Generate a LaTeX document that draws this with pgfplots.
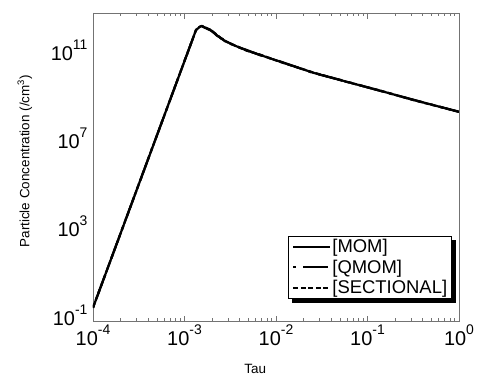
\documentclass[border=0pt]{standalone}
\usepackage{fontspec}
\setmainfont{Liberation Sans}
\usepackage{pgfplots}
\pgfplotsset{compat=1.18}
\usetikzlibrary{calc}
\pgfdeclarelayer{background}
\pgfsetlayers{background,main}
\newcommand{\tl}[1]{10\raisebox{11bp}{\fontsize{14}{14}\selectfont #1}}
\begin{document}
\begin{tikzpicture}
\useasboundingbox (-93bp,-57.3bp) rectangle (384bp,321.7bp);
\begin{axis}[
  at={(0bp,0bp)}, anchor=south west,
  width=366bp, height=308.7bp, scale only axis,
  xmode=log, ymode=log,
  xmin=1e-4, xmax=1, ymin=0.1, ymax=1e13,
  axis line style={black!55, line width=0.8bp},
  xtick={1e-4,1e-3,1e-2,1e-1,1},
  xticklabels={\tl{-4},\tl{-3},\tl{-2},\tl{-1},\tl{0}},
  ytick={1e-1,1e3,1e7,1e11},
  yticklabels={\tl{-1},\tl{3},\tl{7},\tl{11}},
  ytick style={draw=none},
  minor ytick={},
  xtick pos=both,
  tick align=inside,
  major tick length=6bp, minor tick length=3.5bp,
  xtick style={black!55, line width=0.8bp},
  minor tick style={black!55, line width=0.8bp},
  tick label style={font=\fontsize{20}{22}\selectfont},
  yticklabel style={anchor=base east, yshift=-3.5bp, xshift=-2bp},
  xlabel={Tau}, ylabel={Particle Concentration (/cm\textsuperscript{3})},
  label style={font=\fontsize{13.5}{15}\selectfont},
  xlabel style={at={(axis description cs:0.443,-0.152)}, anchor=center},
  ylabel style={at={(axis description cs:-0.186,0.52)}, anchor=center},
  legend cell align=left,
  legend image code/.code={\draw[#1] (0bp,0bp) -- (37bp,0bp);},
  legend style={name=leg, at={(0.981,0.0735)}, anchor=south east, draw=black, line width=0.8bp, fill=white,
    font=\fontsize{18.5}{18.5}\selectfont, row sep=3.5bp, inner xsep=3.5bp, inner ysep=2.5bp, nodes={inner sep=1bp}},
]
\addplot[black, line width=2.2bp] coordinates {
(1e-4,0.43) (1.337e-3,1.70e12) (1.476e-3,2.40e12) (1.549e-3,2.57e12)
(1.90e-3,1.70e12) (2.25e-3,1.0e12) (2.65e-3,6.0e11) (3.41e-3,3.55e11) (4.79e-3,2.0e11)
(6.68e-3,1.26e11) (1.107e-2,6.2e10)
(2.559e-2,1.95e10) (5.929e-2,7.6e9) (0.1371,3.0e9) (0.3162,1.15e9) (1,3.3e8)};
\addlegendentry{[MOM]}
\addplot[black, line width=2.2bp, dash pattern=on 3bp off 7bp on 25bp off 7bp] coordinates {
(1e-4,0.43) (1.337e-3,1.70e12) (1.476e-3,2.42e12) (1.549e-3,2.5e12)
(1.80e-3,1.85e12) (2.0e-3,1.55e12) (2.25e-3,0.95e12) (2.65e-3,6.4e11) (3.41e-3,3.4e11) (4.79e-3,2.1e11)
(6.68e-3,1.22e11) (1.107e-2,6.4e10)
(2.559e-2,1.9e10) (5.929e-2,7.8e9) (0.1371,2.95e9) (0.3162,1.17e9) (1,3.3e8)};
\addlegendentry{[QMOM]}
\addplot[black, line width=2.2bp, dash pattern=on 5bp off 2.5bp] coordinates {
(1e-4,0.43) (1.337e-3,1.70e12) (1.476e-3,2.40e12) (1.549e-3,2.55e12)
(1.90e-3,1.78e12) (2.25e-3,1.05e12) (2.65e-3,5.7e11) (3.41e-3,3.65e11) (4.79e-3,1.95e11)
(6.68e-3,1.3e11) (1.107e-2,6.1e10)
(2.559e-2,2.0e10) (5.929e-2,7.5e9) (0.1371,3.05e9) (0.3162,1.13e9) (1,3.3e8)};
\addlegendentry{[SECTIONAL]}
\end{axis}
\begin{pgfonlayer}{background}
\fill[black] ($(leg.south west)+(4bp,-4bp)$) rectangle ($(leg.north east)+(4bp,-4bp)$);
\end{pgfonlayer}
\end{tikzpicture}
\end{document}
